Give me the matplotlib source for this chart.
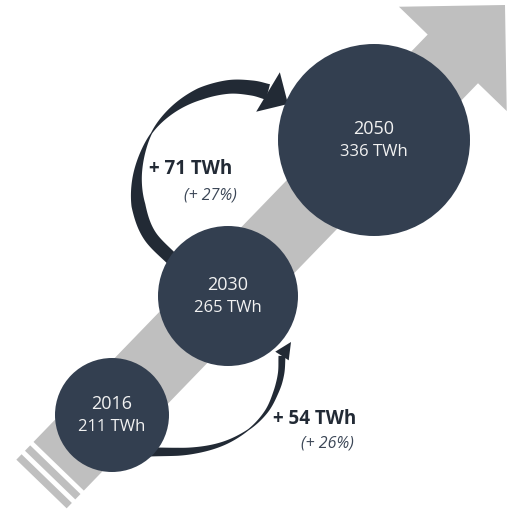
import numpy as np
import matplotlib
matplotlib.use("Agg")
import matplotlib.pyplot as plt
from matplotlib.patches import Polygon, Circle

############################################
# data
############################################
years = ["2016", "2030", "2050"]
consumption_twh = [211, 265, 336]
delta_twh = [54, 71]
delta_pct = [26, 27]

############################################
# layout (pixel space, y down)
############################################
W, H = 509, 512
circle_xy = [(112, 415), (228, 296), (374, 140)]
circle_r = [57, 70, 96]
delta_label_xy = [(315, 419), (191, 169)]
pct_label_xy = [(327, 443), (210, 195)]

NAVY = "#333F50"
DARK = "#222A35"
GREY = "#BFBFBF"
TXT = "#F2F2F2"

plt.rcParams["font.family"] = ["Open Sans", "DejaVu Sans"]

fig = plt.figure(figsize=(W / 100, H / 100), dpi=100)
ax = fig.add_axes([0, 0, 1, 1])
ax.set_xlim(0, W)
ax.set_ylim(H, 0)
ax.axis("off")


def to_px(T, u, n, pts):
    return [tuple(T + a * u + p * n) for a, p in pts]


############################################
# big grey arrow with striped tail
############################################
tail = np.array([41.5, 484.0])
tip = np.array([505.0, 5.0])
L = np.linalg.norm(tip - tail)
u = (tip - tail) / L
n = np.array([-u[1], u[0]])
shaft, head, head_len = 35, 75, 75
body_start = 24.7

body = [(body_start, -shaft), (L - head_len, -shaft), (L - head_len, -head),
        (L, 0), (L - head_len, head), (L - head_len, shaft), (body_start, shaft)]
ax.add_patch(Polygon(to_px(tail, u, n, body), closed=True, fc=GREY, ec="none", zorder=1))
for a0, a1 in [(0, 7.5), (12.4, 19.9)]:
    stripe = [(a0, -shaft), (a1, -shaft), (a1, shaft), (a0, shaft)]
    ax.add_patch(Polygon(to_px(tail, u, n, stripe), closed=True, fc=GREY, ec="none", zorder=1))


############################################
# twisted curved arrows
############################################
def smooth(points, per_seg=25):
    P = np.array(points, dtype=float)
    m = np.zeros_like(P)
    m[1:-1] = (P[2:] - P[:-2]) / 2
    m[0] = P[1] - P[0]
    m[-1] = P[-1] - P[-2]
    out = []
    for i in range(len(P) - 1):
        t = np.linspace(0, 1, per_seg, endpoint=False)[:, None]
        h00 = 2 * t**3 - 3 * t**2 + 1
        h10 = t**3 - 2 * t**2 + t
        h01 = -2 * t**3 + 3 * t**2
        h11 = t**3 - t**2
        out.append(h00 * P[i] + h10 * m[i] + h01 * P[i + 1] + h11 * m[i + 1])
    out.append(P[-1:])
    return np.vstack(out)


def ribbon(points, knots, widths, tip_pt, head_hw):
    c = smooth(points)
    d = np.gradient(c, axis=0)
    d /= np.linalg.norm(d, axis=1)[:, None]
    nrm = np.column_stack([-d[:, 1], d[:, 0]])
    seg = np.r_[0, np.cumsum(np.linalg.norm(np.diff(c, axis=0), axis=1))]
    s = seg / seg[-1]
    w = np.interp(s, knots, widths) / 2
    left = c + nrm * w[:, None]
    right = c - nrm * w[:, None]
    poly = np.vstack([left, right[::-1]])
    ax.add_patch(Polygon(poly, closed=True, fc=DARK, ec="none", zorder=2))
    base = c[-1]
    hd = np.array(tip_pt) - base
    hd /= np.linalg.norm(hd)
    hn = np.array([-hd[1], hd[0]])
    tri = [base + hn * head_hw, np.array(tip_pt), base - hn * head_hw]
    ax.add_patch(Polygon(tri, closed=True, fc=DARK, ec="none", zorder=2))


# 2016 -> 2030
ribbon([(150, 452), (190, 451), (222, 444), (248, 430), (266, 412),
        (276, 392), (281, 374), (282, 356)],
       [0, 0.15, 0.55, 0.85, 1], [9, 8, 1.2, 6, 7],
       (291, 342), 8)

# 2030 -> 2050
ribbon([(175, 262), (150, 236), (139, 208), (137, 180), (143, 152),
        (155, 128), (175, 108), (200, 94), (228, 87), (252, 88), (268, 92)],
       [0, 0.25, 0.52, 0.75, 1], [13, 14, 1.2, 12, 16],
       (288, 104), 23)

############################################
# circles + labels
############################################
for (cx, cy), r, yr, v in zip(circle_xy, circle_r, years, consumption_twh):
    ax.add_patch(Circle((cx, cy), r, fc=NAVY, ec="none", zorder=3))
    ax.text(cx, cy - 11, yr, color=TXT, fontsize=13, ha="center", va="center", zorder=4)
    ax.text(cx, cy + 12, f"{v} TWh", color=TXT, fontsize=12, ha="center", va="center", zorder=4)

for (x, y), d in zip(delta_label_xy, delta_twh):
    ax.text(x, y, f"+ {d} TWh", color=DARK, fontsize=13.5, fontweight="bold",
            ha="center", va="center", zorder=4)
for (x, y), p in zip(pct_label_xy, delta_pct):
    ax.text(x, y, f"(+ {p}%)", color="#3B4656", fontsize=11.5, fontstyle="italic",
            ha="center", va="center", zorder=4)

fig.savefig("out.png", dpi=100)
